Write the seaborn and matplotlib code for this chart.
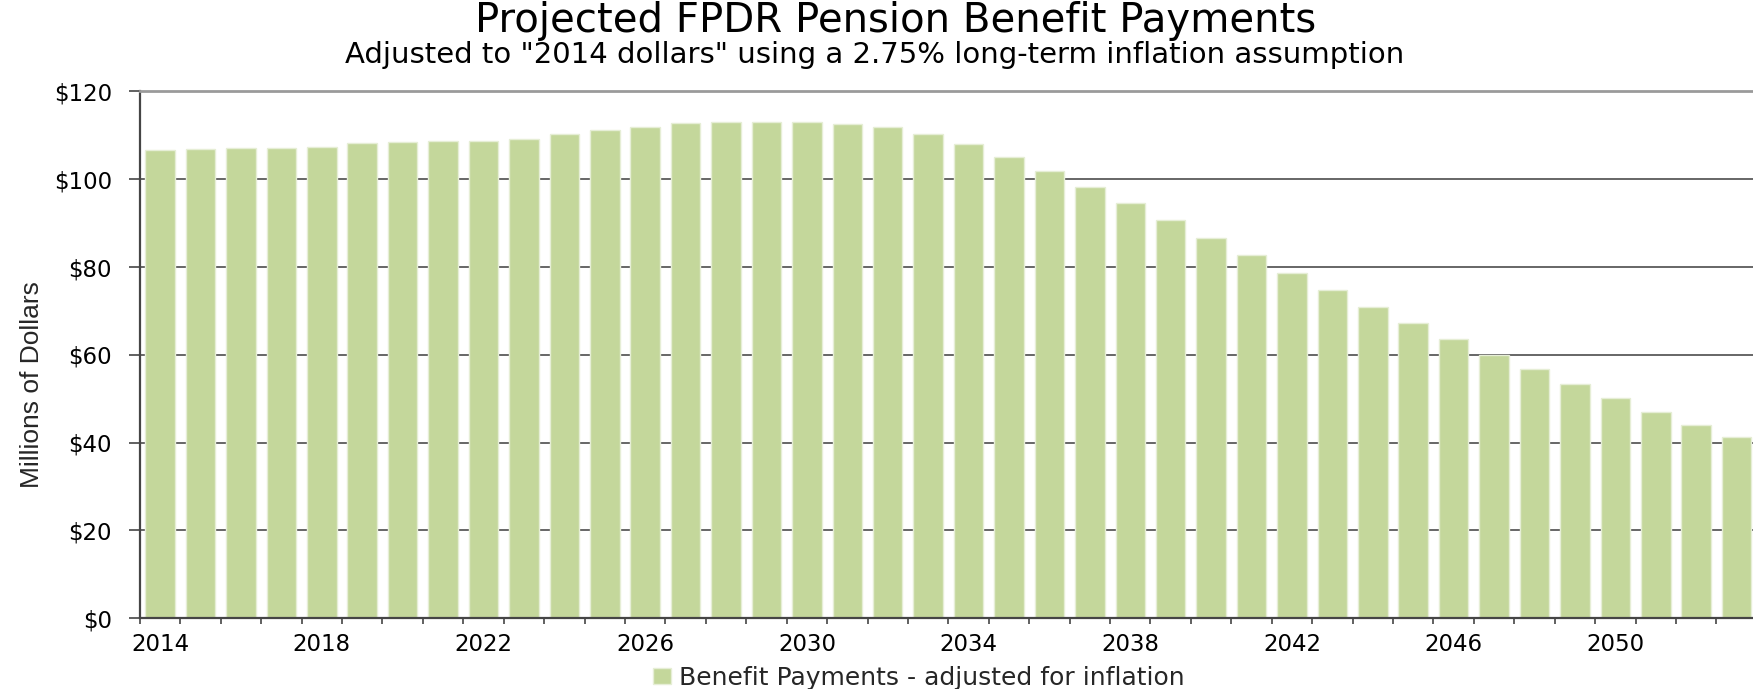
import matplotlib
matplotlib.use("Agg")
import numpy as np
import pandas as pd
import matplotlib.pyplot as plt
import seaborn as sns
from matplotlib.patches import Patch
from matplotlib.ticker import FixedLocator

# ---------------- data ----------------
years = ["2014", "2015", "2016", "2017", "2018", "2019", "2020", "2021", "2022", "2023",
         "2024", "2025", "2026", "2027", "2028", "2029", "2030", "2031", "2032", "2033",
         "2034", "2035", "2036", "2037", "2038", "2039", "2040", "2041", "2042", "2043",
         "2044", "2045", "2046", "2047", "2048", "2049", "2050", "2051", "2052", "2053"]
benefit_payments = [106.6, 107.0, 107.1, 107.1, 107.4, 108.2, 108.5, 108.8, 108.8, 109.1,
                    110.2, 111.2, 112.0, 112.9, 113.1, 113.1, 113.0, 112.7, 111.8, 110.2,
                    108.0, 105.1, 101.9, 98.3, 94.5, 90.6, 86.6, 82.7, 78.6, 74.8,
                    70.9, 67.2, 63.6, 60.0, 56.7, 53.3, 50.1, 47.0, 44.1, 41.2]
xtick_labels = ["2014", "2018", "2022", "2026", "2030", "2034", "2038", "2042", "2046", "2050"]
ytick_values = [0, 20, 40, 60, 80, 100, 120]
ytick_labels = ["$0", "$20", "$40", "$60", "$80", "$100", "$120"]
series_name = "Benefit Payments - adjusted for inflation"
title = "Projected FPDR Pension Benefit Payments"
subtitle = 'Adjusted to "2014 dollars" using a 2.75% long-term inflation assumption'
ylabel = "Millions of Dollars"

# ---------------- style ----------------
BAR = "#C4D79B"
EDGE = "#E6EED6"
DARK = "#454545"

sns.set_style("white")
plt.rcParams["font.family"] = ["DejaVu Sans"]

fig = plt.figure(figsize=(17.53, 6.89), dpi=100)
ax = fig.add_axes([0.0798, 0.1030, 0.9224, 0.7642])

df = pd.DataFrame({"year": years, "value": benefit_payments})
sns.barplot(data=df, x="year", y="value", color=BAR, saturation=1, width=0.73,
            edgecolor=EDGE, linewidth=1.0, ax=ax)

ax.set_xlim(-0.5, len(years) - 0.5)
ax.set_ylim(0, 120)

# y axis
ax.yaxis.set_major_locator(FixedLocator(ytick_values))
ax.set_yticklabels(ytick_labels)
ax.yaxis.grid(True, color="#4d4d4d", linewidth=1.2)
ax.set_axisbelow(True)
ax.tick_params(axis="y", which="major", left=True, length=8, width=1.2, color=DARK,
               direction="out", pad=12, labelsize=16.5, labelcolor="black")

# x axis: labels every 4 years at bar centres, tick marks at category boundaries
major_pos = [years.index(y) for y in xtick_labels]
ax.xaxis.set_major_locator(FixedLocator(major_pos))
ax.set_xticklabels(xtick_labels)
ax.xaxis.set_minor_locator(FixedLocator(np.arange(-0.5, len(years), 1.0)))
ax.tick_params(axis="x", which="major", bottom=True, length=0, pad=11, labelsize=16.5,
               labelcolor="black")
ax.tick_params(axis="x", which="minor", bottom=True, length=4.5, width=1.2, color=DARK,
               direction="out")

# spines
for side in ["left", "bottom"]:
    ax.spines[side].set_visible(True)
    ax.spines[side].set_color(DARK)
    ax.spines[side].set_linewidth(1.6)
ax.spines["top"].set_visible(True)
ax.spines["top"].set_color("#9a9a9a")
ax.spines["top"].set_linewidth(2.0)
ax.spines["right"].set_visible(False)

ax.set_xlabel("")
ax.set_ylabel(ylabel, fontsize=19, family=["Liberation Sans Narrow", "Liberation Sans", "DejaVu Sans"])
ax.yaxis.set_label_coords(-0.059, 0.444)

# titles
fig.text(0.511, 0.954, title, ha="center", va="baseline", fontsize=29, color="black")
fig.text(0.499, 0.9086, subtitle, ha="center", va="baseline", fontsize=21, color="black")

# legend
handle = Patch(facecolor=BAR, edgecolor=EDGE, linewidth=1.0)
fig.legend(handles=[handle], labels=[series_name], loc="center",
           bbox_to_anchor=(0.524, 0.016), frameon=False, fontsize=18,
           handlelength=0.75, handleheight=0.6, handletextpad=0.3)

fig.savefig("out.png", dpi=100)
